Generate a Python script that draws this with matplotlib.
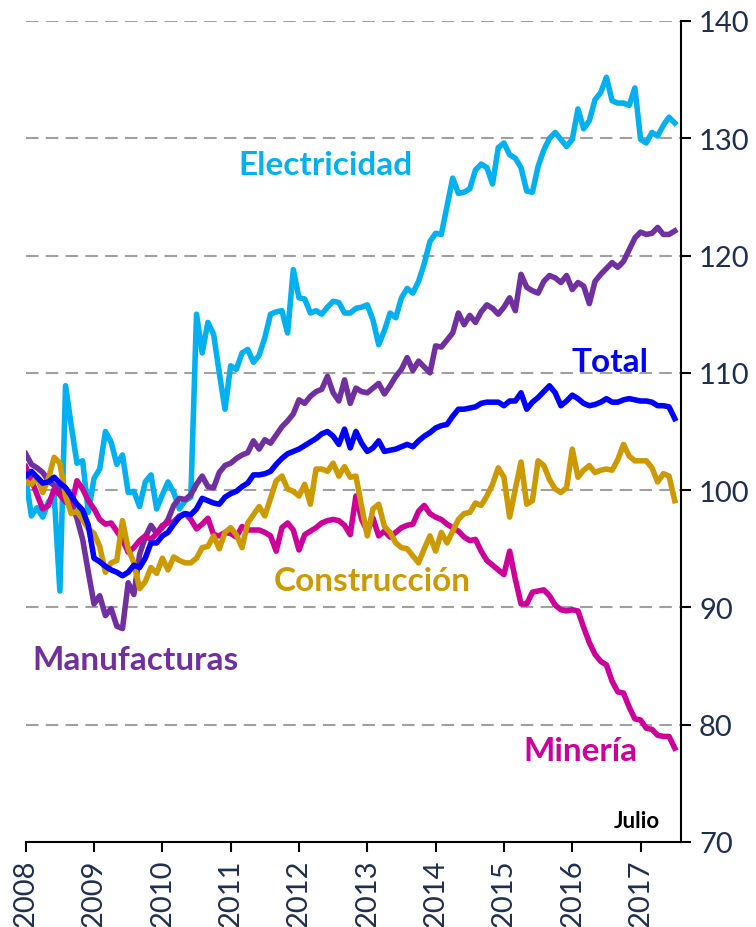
import numpy as np
import matplotlib
matplotlib.use('Agg')
import matplotlib.pyplot as plt

# Indices de produccion industrial por sector, mensual ene-2008 a jul-2017

anios = ['2008', '2009', '2010', '2011', '2012', '2013', '2014', '2015', '2016', '2017']

electricidad = [
    101.0, 97.8, 98.5, 97.7, 99.0, 99.6, 91.4, 108.9, 105.5, 102.3, 102.5, 98.1,
    101.0, 101.8, 105.0, 104.1, 102.2, 103.0, 99.8, 99.9, 98.6, 100.7, 101.3, 98.4,
    99.6, 100.7, 99.8, 98.4, 99.1, 99.4, 115.0, 111.7, 114.3, 113.3, 110.0, 106.9,
    110.6, 110.3, 111.7, 112.0, 110.9, 111.5, 113.0, 115.0, 115.2, 115.3, 113.4, 118.8,
    116.4, 116.3, 115.1, 115.3, 115.0, 115.6, 116.1, 116.0, 115.1, 115.1, 115.5, 115.6,
    115.8, 114.5, 112.4, 113.6, 115.1, 114.7, 116.4, 117.2, 116.8, 117.8, 119.3, 121.2,
    121.9, 121.8, 124.2, 126.6, 125.3, 125.4, 125.7, 127.3, 127.8, 127.5, 126.1, 129.2,
    129.6, 128.6, 128.3, 127.5, 125.5, 125.4, 127.6, 129.0, 130.0, 130.5, 129.9, 129.3,
    129.9, 132.5, 130.8, 131.5, 133.3, 133.9, 135.2, 133.2, 133.0, 133.0, 132.8, 134.3,
    129.9, 129.6, 130.5, 130.2, 131.1, 131.8, 131.3,
]

manufacturas = [
    103.1, 102.2, 101.9, 101.5, 100.8, 100.4, 100.1, 99.5, 98.9, 97.6, 95.8, 93.0,
    90.3, 91.0, 89.3, 89.9, 88.4, 88.2, 92.1, 91.1, 94.5, 96.0, 97.0, 96.3,
    96.8, 97.5, 98.7, 99.3, 99.2, 99.6, 100.5, 101.2, 100.3, 100.2, 101.5, 102.1,
    102.3, 102.7, 103.0, 103.2, 104.2, 103.5, 104.3, 104.0, 104.7, 105.4, 105.9, 106.5,
    107.7, 107.4, 108.0, 108.4, 108.6, 109.7, 108.3, 107.6, 109.4, 107.4, 108.7, 108.4,
    108.3, 108.7, 109.1, 108.2, 108.9, 109.7, 110.3, 111.3, 110.2, 111.0, 110.5, 110.0,
    112.3, 112.2, 112.8, 113.4, 115.1, 114.1, 114.9, 114.3, 115.2, 115.8, 115.5, 115.0,
    115.6, 116.4, 115.3, 118.4, 117.3, 117.0, 116.8, 117.8, 118.3, 118.1, 117.7, 118.3,
    117.1, 117.7, 117.4, 115.9, 117.8, 118.4, 118.9, 119.4, 119.0, 119.5, 120.5, 121.5,
    122.0, 121.8, 121.9, 122.4, 121.8, 121.8, 122.1,
]

total = [
    101.2, 101.6, 101.1, 100.6, 100.7, 101.1, 100.6, 100.2, 99.5, 98.8, 98.3, 97.0,
    94.2, 93.9, 93.5, 93.2, 93.0, 92.7, 93.0, 93.6, 93.4, 94.2, 95.5, 95.5,
    96.1, 96.4, 97.1, 97.7, 98.0, 97.9, 98.4, 99.3, 99.1, 98.9, 98.8, 99.4,
    99.7, 99.9, 100.3, 100.6, 101.3, 101.3, 101.4, 101.6, 102.2, 102.7, 103.1, 103.3,
    103.5, 103.8, 104.1, 104.4, 104.8, 105.0, 104.6, 103.9, 105.2, 103.6, 105.0, 104.0,
    103.3, 103.6, 104.2, 103.3, 103.4, 103.5, 103.7, 103.9, 103.7, 104.2, 104.6, 104.9,
    105.3, 105.5, 105.6, 106.3, 106.9, 106.9, 107.0, 107.1, 107.4, 107.5, 107.5, 107.5,
    107.2, 107.6, 107.6, 108.3, 106.9, 107.5, 107.9, 108.4, 108.9, 108.3, 107.2, 107.6,
    108.1, 107.8, 107.4, 107.2, 107.3, 107.5, 107.8, 107.5, 107.5, 107.7, 107.8, 107.7,
    107.6, 107.6, 107.5, 107.2, 107.2, 107.1, 106.1,
]

construccion = [
    100.7, 100.5, 101.1, 99.8, 101.0, 102.8, 102.3, 99.5, 98.0, 98.2, 97.5, 96.7,
    96.3, 95.2, 93.0, 93.8, 94.0, 97.4, 95.0, 93.8, 91.6, 92.2, 93.4, 92.9,
    94.2, 93.2, 94.3, 94.0, 93.8, 93.8, 94.2, 95.1, 95.2, 96.1, 95.0, 96.4,
    96.8, 96.2, 95.1, 97.2, 97.9, 98.6, 97.8, 99.3, 100.8, 101.2, 100.1, 99.9,
    99.5, 100.5, 98.8, 101.8, 101.8, 101.6, 102.3, 101.2, 102.0, 101.1, 101.2, 98.6,
    96.1, 98.4, 98.8, 96.9, 96.4, 95.5, 95.1, 95.0, 94.4, 93.8, 95.0, 96.1,
    94.8, 96.4, 95.5, 96.5, 97.5, 98.0, 98.1, 98.9, 98.7, 99.5, 100.5, 101.9,
    101.1, 97.7, 100.1, 102.4, 98.8, 99.1, 102.5, 102.1, 100.9, 100.1, 99.8, 100.2,
    103.5, 101.1, 101.7, 102.1, 101.5, 101.7, 101.8, 101.7, 102.6, 103.9, 102.9, 102.5,
    102.5, 102.5, 101.9, 100.7, 101.4, 101.2, 99.1,
]

mineria = [
    102.0, 100.9, 99.6, 98.4, 98.7, 100.1, 99.6, 99.0, 98.7, 100.8, 100.1, 99.1,
    98.4, 97.5, 97.1, 97.2, 96.5, 95.8, 94.7, 95.1, 95.7, 96.1, 95.8, 96.3,
    97.0, 97.2, 97.3, 97.8, 98.0, 97.5, 96.7, 97.1, 97.6, 96.2, 96.1, 96.4,
    96.3, 96.0, 96.9, 96.6, 96.6, 96.6, 96.4, 96.1, 94.8, 96.8, 97.2, 96.6,
    94.9, 96.2, 96.5, 96.8, 97.2, 97.4, 97.5, 97.4, 97.0, 96.2, 99.5, 97.5,
    96.5, 97.6, 96.1, 96.5, 96.0, 96.4, 96.8, 97.0, 97.1, 98.2, 98.7, 98.0,
    97.7, 97.5, 97.1, 96.8, 96.5, 96.0, 95.7, 95.8, 94.8, 94.0, 93.6, 93.2,
    92.8, 94.8, 92.4, 90.3, 90.3, 91.3, 91.4, 91.5, 91.0, 90.2, 89.8, 89.7,
    89.8, 89.7, 88.3, 87.0, 86.0, 85.4, 85.1, 83.7, 82.8, 82.7, 81.5, 80.5,
    80.4, 79.7, 79.6, 79.1, 79.0, 79.0, 78.0,
]

COLOR_ELEC = '#00B0F0'
COLOR_MANU = '#7030A0'
COLOR_TOTAL = '#0000FF'
COLOR_CONS = '#CC9900'
COLOR_MIN = '#CC0099'
COLOR_TICKS = '#1F2F4F'

plt.rcParams['font.family'] = ['Lato', 'DejaVu Sans']

meses = np.arange(len(total))

fig = plt.figure(figsize=(7.56, 9.28), dpi=100)
ax = fig.add_axes([0.034, 0.0916, 0.8668, 0.8847])

lw = 4.0
ax.plot(meses, electricidad, color=COLOR_ELEC, lw=lw, solid_joinstyle='round', zorder=3)
ax.plot(meses, manufacturas, color=COLOR_MANU, lw=lw, solid_joinstyle='round', zorder=3)
ax.plot(meses, mineria, color=COLOR_MIN, lw=lw, solid_joinstyle='round', zorder=3)
ax.plot(meses, construccion, color=COLOR_CONS, lw=lw, solid_joinstyle='round', zorder=3)
ax.plot(meses, total, color=COLOR_TOTAL, lw=lw, solid_joinstyle='round', zorder=4)

# Ejes
ax.set_xlim(0, 115.1)
ax.set_ylim(70, 140)
ax.yaxis.tick_right()
ax.set_yticks(np.arange(70, 141, 10))
ax.set_xticks(np.arange(0, 109, 12))
ax.set_xticklabels(anios, rotation=90)

for v in range(80, 141, 10):
    ax.axhline(v, color='#A0A0A0', lw=1.5, linestyle=(0, (6, 3.5)), zorder=1)

for s in ['top', 'left']:
    ax.spines[s].set_visible(False)
for s in ['bottom', 'right']:
    ax.spines[s].set_linewidth(1.5)
    ax.spines[s].set_color('black')

ax.tick_params(axis='y', which='both', direction='out', length=7, width=1.5,
               pad=6, labelsize=21, labelcolor=COLOR_TICKS)
ax.tick_params(axis='x', which='both', direction='out', length=7, width=1.5,
               pad=5, labelsize=21, labelcolor=COLOR_TICKS)

# Etiquetas de las series
lab = dict(fontsize=24, fontweight='bold', ha='center', va='center')
ax.text(52.6, 127.8, 'Electricidad', color=COLOR_ELEC, **lab)
ax.text(102.7, 111.0, 'Total', color=COLOR_TOTAL, **lab)
ax.text(60.9, 92.3, 'Construcción', color=COLOR_CONS, **lab)
ax.text(19.2, 85.6, 'Manufacturas', color=COLOR_MANU, **lab)
ax.text(97.4, 77.8, 'Minería', color=COLOR_MIN, **lab)
ax.text(107.3, 71.8, 'Julio', color='black', fontsize=16, fontweight='bold',
        ha='center', va='center')

plt.savefig('out.png', dpi=100)
plt.close()
